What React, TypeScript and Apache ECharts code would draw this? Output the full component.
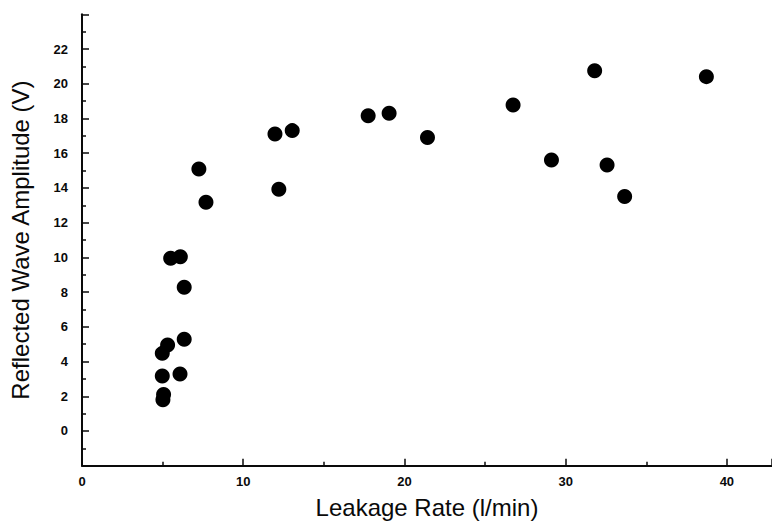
import React, { useEffect, useRef } from "react";
import * as echarts from "echarts";

const leakageRate = [
  5.5, 6.1, 6.34, 6.34, 5.31, 4.98, 4.98, 6.08, 5.02, 5.06,
  7.25, 7.69, 12.21, 11.97, 13.04, 17.75, 19.05, 21.43, 26.74,
  31.8, 38.73, 29.12, 32.57, 33.66,
];
const amplitude = [
  9.95, 10.04, 8.28, 5.28, 4.95, 4.47, 3.17, 3.28, 1.8, 2.1,
  15.09, 13.17, 13.92, 17.1, 17.3, 18.16, 18.3, 16.9, 18.78,
  20.75, 20.41, 15.61, 15.32, 13.5,
];
const xTickStep = 10;
const yTickStep = 2;
const yLabelMin = 0;
const yLabelMax = 22;

export default function App() {
  const ref = useRef<HTMLDivElement>(null);
  useEffect(() => {
    if (!ref.current) return;
    const chart = echarts.init(ref.current, null, { renderer: "svg" });
    const font = "'Liberation Sans', Arial, sans-serif";
    const ink = "#0a0a0a";
    chart.setOption({
      animation: false,
      backgroundColor: "#ffffff",
      grid: { left: 82, right: 0, top: 14.3, bottom: 63.3 },
      xAxis: {
        type: "value", min: 0, max: 42.8, interval: xTickStep,
        name: "Leakage Rate (l/min)", nameLocation: "middle", nameGap: 30,
        nameTextStyle: { fontFamily: font, fontSize: 24, color: ink },
        axisLine: { show: true, onZero: false, lineStyle: { color: ink, width: 2 } },
        axisTick: { show: true, inside: true, length: 7, lineStyle: { color: ink, width: 1.5 } },
        minorTick: { show: true, splitNumber: 2, length: 4, lineStyle: { color: ink, width: 1.5 } },
        axisLabel: {
          showMaxLabel: false, margin: 9, fontFamily: font, fontWeight: "bold", fontSize: 13, color: ink,
          formatter: (v: number) => (v > 40.5 ? "" : String(v)),
        },
        splitLine: { show: false },
      },
      yAxis: {
        type: "value", min: -2, max: 24, interval: yTickStep,
        name: "Reflected Wave Amplitude (V)", nameLocation: "middle", nameGap: 50,
        nameTextStyle: { fontFamily: font, fontSize: 24, color: ink },
        axisLine: { show: true, onZero: false, lineStyle: { color: ink, width: 2 } },
        axisTick: { show: true, inside: true, length: 7, lineStyle: { color: ink, width: 1.5 } },
        minorTick: { show: true, splitNumber: 2, length: 4, lineStyle: { color: ink, width: 1.5 } },
        axisLabel: {
          margin: 14, fontFamily: font, fontWeight: "bold", fontSize: 13, color: ink,
          formatter: (v: number) => (v < yLabelMin || v > yLabelMax ? "" : String(v)),
        },
        splitLine: { show: false },
      },
      series: [
        {
          type: "scatter",
          symbol: "circle",
          symbolSize: 15,
          itemStyle: { color: "#000000", opacity: 1 },
          data: leakageRate.map((x, i) => [x, amplitude[i]]),
        },
      ],
    });
    return () => chart.dispose();
  }, []);
  return (
    <div
      ref={ref}
      style={{ position: "fixed", left: 0, top: 0, width: 772, height: 529, background: "#fff" }}
    />
  );
}
